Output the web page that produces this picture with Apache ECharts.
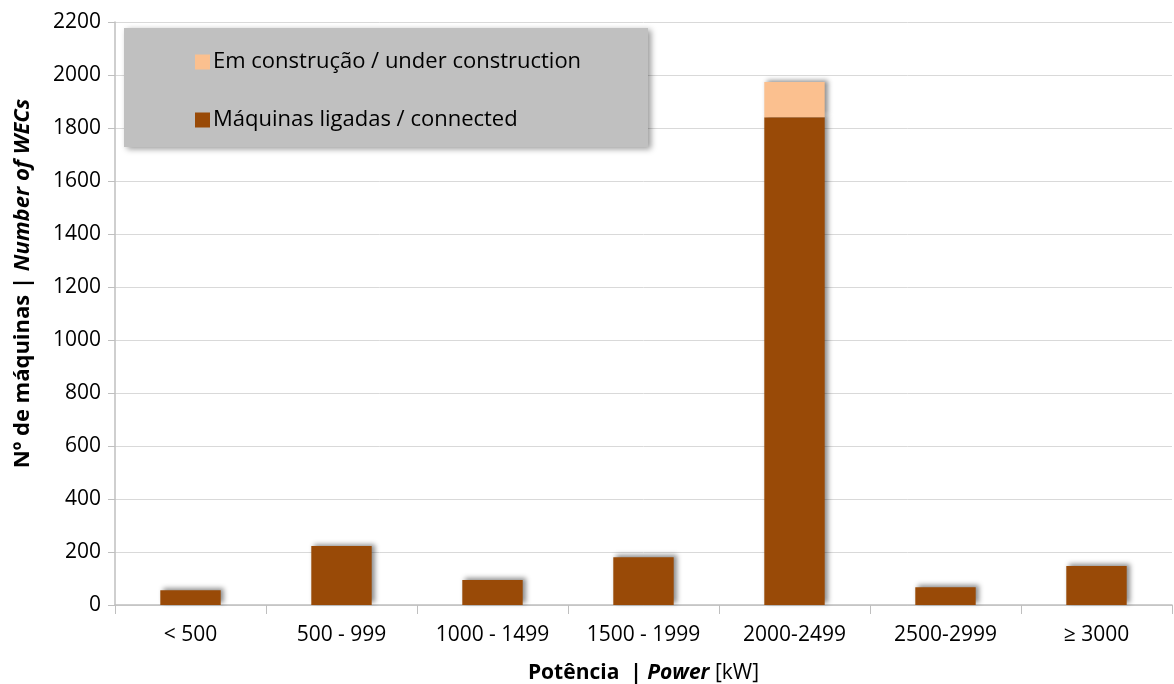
<!DOCTYPE html>
<html><head><meta charset="utf-8">
<script src="https://cdn.jsdelivr.net/npm/echarts@6/dist/echarts.min.js"></script>
<style>html,body{margin:0;padding:0;background:#fff}#c{width:1174px;height:684px}</style>
</head><body><div id="c"></div>
<script>
const categories = ['< 500','500 - 999','1000 - 1499','1500 - 1999','2000-2499','2500-2999','≥ 3000'];
const connected = [56, 223, 94, 180, 1841, 67, 147];
const underConstruction = [0, 0, 0, 0, 133, 0, 0];
const yTicks = {min: 0, max: 2200, interval: 200};
const seriesNames = ['Em construção / under construction', 'Máquinas ligadas / connected'];

const font = '"Open Sans", Lato, sans-serif';
const fs = 21;
const chart = echarts.init(document.getElementById('c'));
const shadow = {shadowColor: 'rgba(0,0,0,0.45)', shadowBlur: 5, shadowOffsetX: 3, shadowOffsetY: -2};
chart.setOption({
  animation: false,
  textStyle: {fontFamily: font},
  grid: {left: 115, right: 2, top: 22, bottom: 79, containLabel: false, outerBoundsMode: 'none'},
  graphic: [{
    type: 'rect', z: 3, left: 124, top: 28,
    shape: {width: 524, height: 119},
    style: {fill: '#c0c0c0', shadowColor: 'rgba(0,0,0,0.4)', shadowBlur: 6, shadowOffsetX: 3, shadowOffsetY: 2}
  }],
  legend: {
    z: 5, orient: 'vertical', left: 190, top: 46,
    data: [seriesNames[0], seriesNames[1]],
    itemWidth: 15, itemHeight: 15, itemGap: 36,
    icon: 'rect',
    textStyle: {fontSize: 22, color: '#000', fontFamily: font, padding: [0, 0, 0, -2]}
  },
  xAxis: {
    type: 'category', data: categories,
    axisLine: {lineStyle: {color: '#bfbfbf', width: 1.5}},
    axisTick: {show: true, alignWithLabel: false, length: 9, lineStyle: {color: '#bfbfbf'}},
    axisLabel: {fontSize: fs, color: '#000', margin: 20, fontFamily: font},
    name: '{b|Potência  | }{bi|Power}{n| [kW]}',
    nameLocation: 'middle', nameGap: 58,
    nameTextStyle: {
      rich: {
        b: {fontSize: fs, fontWeight: 'bold', color: '#000', fontFamily: font},
        bi: {fontSize: fs, fontWeight: 'bold', fontStyle: 'italic', color: '#000', fontFamily: font},
        n: {fontSize: fs, color: '#000', fontFamily: font}
      }
    }
  },
  yAxis: {
    type: 'value', min: yTicks.min, max: yTicks.max, interval: yTicks.interval,
    axisLine: {show: true, lineStyle: {color: '#bfbfbf', width: 1.5}},
    axisTick: {show: true, length: 7, lineStyle: {color: '#bfbfbf'}},
    axisLabel: {fontSize: fs, color: '#000', margin: 14, fontFamily: font, formatter: v => String(v)},
    splitLine: {lineStyle: {color: '#d9d9d9'}},
    name: '{b|Nº de máquinas | }{bi|Number of WECs}',
    nameLocation: 'middle', nameGap: 81, nameRotate: 90,
    nameTextStyle: {
      padding: [0, 0, 0, 60],
      rich: {
        b: {fontSize: 22, fontWeight: 'bold', color: '#000', fontFamily: font},
        bi: {fontSize: 22, fontWeight: 'bold', fontStyle: 'italic', color: '#000', fontFamily: font}
      }
    }
  },
  series: [
    {name: seriesNames[1], type: 'bar', stack: 'a', data: connected, barWidth: '40%',
     itemStyle: Object.assign({color: '#994a07'}, shadow)},
    {name: seriesNames[0], type: 'bar', stack: 'a', data: underConstruction, barWidth: '40%',
     itemStyle: Object.assign({color: '#fbc08f'}, shadow)}
  ]
});
</script></body></html>
